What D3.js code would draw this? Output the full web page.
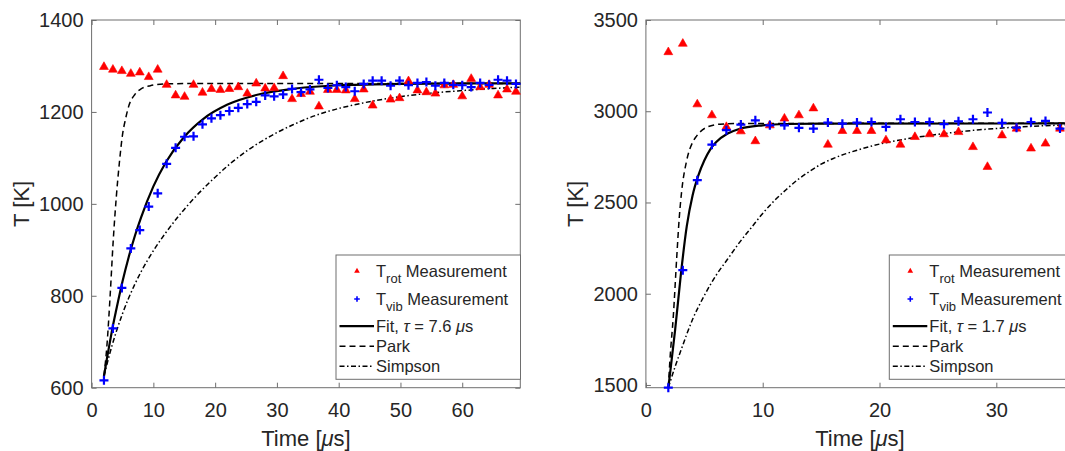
<!DOCTYPE html>
<html>
<head>
<meta charset="utf-8">
<script src="https://cdn.jsdelivr.net/npm/d3@7"></script>
<style>
  body { margin: 0; background: #fff; }
  text { font-family: "Liberation Sans", Arial, sans-serif; fill: #262626; }
</style>
</head>
<body>
<svg id="chart" width="1065" height="451"></svg>
<script>
// ---- left panel: measurements ----
const leftTime = [2.0, 3.45, 4.9, 6.35, 7.8, 9.25, 10.7, 12.15, 13.6, 15.05, 16.5, 17.95, 19.4, 20.85, 22.3, 23.75,
  25.2, 26.65, 28.1, 29.55, 31.0, 32.45, 33.9, 35.35, 36.8, 38.25, 39.7, 41.15, 42.6, 44.05, 45.5, 46.95,
  48.4, 49.85, 51.3, 52.75, 54.2, 55.65, 57.1, 58.55, 60.0, 61.45, 62.9, 64.35, 65.8, 67.25, 68.7];
const leftRot = [1298, 1292, 1289, 1283, 1286, 1276, 1292, 1259, 1236, 1233, 1259, 1242, 1250, 1248, 1250, 1254,
  1240, 1262, 1251, 1252, 1278, 1228, 1239, 1244, 1212, 1248, 1248, 1247, 1228, 1249, 1214, null,
  1227, 1230, 1267, 1247, 1243, 1240, 1258, 1259, 1234, 1272, 1254, 1259, 1236, 1249, 1244];
const leftVib = [616, 729, 817, 903, 943, 994, 1023, 1087, 1122, 1146, 1147, 1173, 1186, 1193, 1202, 1209,
  1217, 1222, 1236, 1234, 1238, 1250, 1243, 1249, 1270, 1252, 1258, 1254, 1245, 1261, 1268, 1268,
  1257, 1268, 1258, 1263, 1265, 1257, 1263, 1259, 1258, 1254, 1263, 1259, 1270, 1268, 1261];
// ---- left panel: model curves ----
const leftFitTime = [2.0, 2.5, 3, 3.5, 4, 5, 6, 7, 8, 10, 12, 15, 18, 22, 27, 33, 40, 50, 60, 69.4];
const leftFit = [625, 665, 702, 738, 770, 831, 884, 930, 970, 1038, 1090, 1146, 1184, 1216, 1238, 1251, 1258, 1261, 1262, 1262];
const leftParkTime = [2.0, 2.5, 3, 3.5, 4, 4.5, 5, 5.5, 6, 7, 8, 9.5, 12, 20, 69.4];
const leftPark = [625, 695, 800, 920, 1015, 1090, 1150, 1185, 1212, 1238, 1250, 1257, 1261, 1262, 1262];
const leftSimpsonTime = [2, 3, 4, 5, 6, 7, 8, 9, 10, 12, 14, 17, 20, 22.4, 25, 27.5, 30, 32.6, 35, 38, 43.4, 48.8, 54.2, 59.6, 65, 69.4];
const leftSimpson = [625, 677, 722, 761, 795, 825, 852, 876, 898, 937, 972, 1018, 1058, 1087, 1114, 1136, 1155, 1172, 1186, 1200, 1218, 1231, 1240, 1246, 1251, 1254];

// ---- right panel: measurements ----
const rightTime = [1.92, 3.16, 4.40, 5.65, 6.89, 8.13, 9.37, 10.61, 11.86, 13.10, 14.34, 15.58, 16.82, 18.07,
  19.31, 20.55, 21.79, 23.03, 24.28, 25.52, 26.76, 28.00, 29.24, 30.49, 31.73, 32.97, 34.21, 35.45];
const rightRot = [3324, 3370, 3038, 2978, 2914, 2890, 2836, 2923, 2960, 2978, 3016, 2817, 2892, 2892,
  2892, 2841, 2817, 2859, 2874, 2874, 2886, 2804, 2695, 2868, 2905, 2796, 2823, 2905];
const rightVib = [1485, 2129, 2622, 2817, 2896, 2927, 2950, 2923, 2923, 2909, 2905, 2938, 2932, 2938,
  2941, 2914, 2956, 2941, 2941, 2929, 2945, 2956, 2993, 2936, 2910, 2941, 2947, 2905];
// ---- right panel: model curves ----
const rightFitTime = [1.92, 2.1, 2.5, 3.0, 3.5, 4.0, 4.5, 5.0, 5.5, 6, 7, 8, 10, 12, 15, 36.65];
const rightFit = [1485, 1580, 1800, 2110, 2370, 2540, 2650, 2730, 2790, 2830, 2878, 2903, 2923, 2930, 2932, 2933];
const rightParkTime = [1.92, 2.06, 2.35, 2.64, 2.86, 3.06, 3.49, 4.0, 4.35, 5.2, 6.34, 8, 36.65];
const rightPark = [1485, 1640, 1880, 2200, 2420, 2560, 2730, 2830, 2865, 2912, 2929, 2933, 2934];
const rightSimpsonTime = [1.92, 2.5, 3, 4, 5, 6, 7, 8, 9, 10, 11, 12, 13, 14, 15, 16, 18, 20, 22, 24.6, 27.5, 30.3, 33.2, 36.65];
const rightSimpson = [1485, 1600, 1690, 1860, 1990, 2100, 2190, 2280, 2360, 2440, 2510, 2570, 2625, 2670, 2710, 2740, 2785, 2820, 2845, 2870, 2892, 2907, 2918, 2926];

const leftXTicks = [0, 10, 20, 30, 40, 50, 60];
const leftYTicks = [600, 800, 1000, 1200, 1400];
const rightXTicks = [0, 10, 20, 30];
const rightYTicks = [1500, 2000, 2500, 3000, 3500];

const svg = d3.select('#chart');
const axisColor = '#6e6e6e';

function zip(ts, vs) {
    return ts.map((t, i) => ({ t: t, v: vs[i] })).filter(d => d.v !== null);
}

function plusPath(cx, cy, r) {
    return `M${cx - r},${cy}H${cx + r}M${cx},${cy - r}V${cy + r}`;
}

function drawPanel(p) {
    const x = d3.scaleLinear().domain(p.xDomain).range([p.left, p.right]);
    const y = d3.scaleLinear().domain(p.yDomain).range([p.bottom, p.top]);
    const g = svg.append('g');
    const fmt = d3.format('d');

    // axes with inward ticks on all four sides
    const bottom = g.append('g').attr('transform', `translate(0,${p.bottom})`)
        .call(d3.axisBottom(x).tickValues(p.xTicks).tickFormat(fmt).tickSizeInner(-5).tickSizeOuter(0).tickPadding(15.6));
    const top = g.append('g').attr('transform', `translate(0,${p.top})`)
        .call(d3.axisTop(x).tickValues(p.xTicks).tickSizeInner(-5).tickSizeOuter(0).tickFormat(''));
    const left = g.append('g').attr('transform', `translate(${p.left},0)`)
        .call(d3.axisLeft(y).tickValues(p.yTicks).tickFormat(fmt).tickSizeInner(-5).tickSizeOuter(0).tickPadding(8));
    const right = g.append('g').attr('transform', `translate(${p.right},0)`)
        .call(d3.axisRight(y).tickValues(p.yTicks).tickSizeInner(-5).tickSizeOuter(0).tickFormat(''));
    [bottom, top, left, right].forEach(a => {
        a.select('.domain').remove();
        a.selectAll('line').attr('stroke', axisColor);
        a.selectAll('text').style('font-size', '20px').attr('fill', '#262626');
    });
    g.append('rect')
        .attr('x', p.left).attr('y', p.top)
        .attr('width', p.right - p.left).attr('height', p.bottom - p.top)
        .attr('fill', 'none').attr('stroke', axisColor).attr('stroke-width', 1);

    // axis labels
    const xl = g.append('text')
        .attr('x', (p.left + p.right) / 2).attr('y', 446)
        .attr('text-anchor', 'middle').style('font-size', '22px');
    xl.append('tspan').text('Time [');
    xl.append('tspan').style('font-style', 'italic').text('\u03bc');
    xl.append('tspan').text('s]');
    g.append('text')
        .attr('transform', `translate(${p.left - 63},${(p.top + p.bottom) / 2}) rotate(-90)`)
        .attr('text-anchor', 'middle').style('font-size', '22px')
        .text('T [K]');

    // model curves
    const line = d3.line().x(d => x(d.t)).y(d => y(d.v)).curve(d3.curveMonotoneX);
    g.append('path').datum(zip(p.fitTime, p.fit))
        .attr('d', line).attr('fill', 'none').attr('stroke', '#000').attr('stroke-width', 2.2);
    g.append('path').datum(zip(p.parkTime, p.park))
        .attr('d', line).attr('fill', 'none').attr('stroke', '#000').attr('stroke-width', 1.5)
        .attr('stroke-dasharray', '6,4');
    g.append('path').datum(zip(p.simpsonTime, p.simpson))
        .attr('d', line).attr('fill', 'none').attr('stroke', '#000').attr('stroke-width', 1.5)
        .attr('stroke-dasharray', '5,2.5,1.5,2.5');

    // measurements
    const tri = d3.symbol(d3.symbolTriangle, 34);
    g.append('g').selectAll('path').data(zip(p.time, p.rot)).join('path')
        .attr('transform', d => `translate(${x(d.t)},${y(d.v)})`)
        .attr('d', tri).attr('fill', '#ff0000').attr('stroke', '#ff0000').attr('stroke-width', 0.6);
    g.append('g').selectAll('path').data(zip(p.time, p.vib)).join('path')
        .attr('d', d => plusPath(x(d.t), y(d.v), 4.5))
        .attr('stroke', '#0000ff').attr('stroke-width', 2.2).attr('fill', 'none');

    // legend
    const L = p.legend;
    const lg = g.append('g').attr('transform', `translate(${L.x},${L.y})`);
    lg.append('rect').attr('width', L.w).attr('height', L.h)
        .attr('fill', '#fff').attr('stroke', axisColor).attr('stroke-width', 1);
    const base = [22, 50, 76.7, 96.7, 116.7];
    const tx = 40;
    lg.append('path').attr('transform', `translate(21,${base[0] - 6})`)
        .attr('d', d3.symbol(d3.symbolTriangle, 14)).attr('fill', '#ff0000');
    lg.append('path').attr('d', plusPath(21, base[1] - 6, 2.8))
        .attr('stroke', '#0000ff').attr('stroke-width', 1.6);
    [['rot', base[0]], ['vib', base[1]]].forEach(([sub, b]) => {
        const t = lg.append('text').attr('x', tx).attr('y', b).style('font-size', '16.5px');
        t.append('tspan').text('T');
        t.append('tspan').attr('dy', 6).style('font-size', '13px').text(sub);
        t.append('tspan').attr('dy', -6).text(' Measurement');
    });
    lg.append('line').attr('x1', 3.5).attr('x2', 38).attr('y1', base[2] - 5.5).attr('y2', base[2] - 5.5)
        .attr('stroke', '#000').attr('stroke-width', 2.2);
    lg.append('line').attr('x1', 3.5).attr('x2', 38).attr('y1', base[3] - 5.5).attr('y2', base[3] - 5.5)
        .attr('stroke', '#000').attr('stroke-width', 1.5).attr('stroke-dasharray', '6,4');
    lg.append('line').attr('x1', 3.5).attr('x2', 38).attr('y1', base[4] - 5.5).attr('y2', base[4] - 5.5)
        .attr('stroke', '#000').attr('stroke-width', 1.5).attr('stroke-dasharray', '5,2.5,1.5,2.5');
    const ft = lg.append('text').attr('x', tx).attr('y', base[2]).style('font-size', '16.5px');
    ft.append('tspan').text('Fit, ');
    ft.append('tspan').style('font-style', 'italic').text('\u03c4');
    ft.append('tspan').text(` = ${p.tau} `);
    ft.append('tspan').style('font-style', 'italic').text('\u03bc');
    ft.append('tspan').text('s');
    lg.append('text').attr('x', tx).attr('y', base[3]).style('font-size', '16.5px').text('Park');
    lg.append('text').attr('x', tx).attr('y', base[4]).style('font-size', '16.5px').text('Simpson');
}

drawPanel({
    left: 91.6, right: 520.3, top: 20, bottom: 387.7,
    xDomain: [0, 69.4], yDomain: [600, 1400],
    xTicks: leftXTicks, yTicks: leftYTicks,
    time: leftTime, rot: leftRot, vib: leftVib,
    fitTime: leftFitTime, fit: leftFit,
    parkTime: leftParkTime, park: leftPark,
    simpsonTime: leftSimpsonTime, simpson: leftSimpson,
    tau: '7.6',
    legend: { x: 336, y: 255, w: 184.5, h: 124.3 }
});

drawPanel({
    left: 645.9, right: 1074, top: 20, bottom: 387.7,
    xDomain: [0, 36.65], yDomain: [1485, 3500],
    xTicks: rightXTicks, yTicks: rightYTicks,
    time: rightTime, rot: rightRot, vib: rightVib,
    fitTime: rightFitTime, fit: rightFit,
    parkTime: rightParkTime, park: rightPark,
    simpsonTime: rightSimpsonTime, simpson: rightSimpson,
    tau: '1.7',
    legend: { x: 889.3, y: 255, w: 184.5, h: 124.3 }
});
</script>
</body>
</html>
